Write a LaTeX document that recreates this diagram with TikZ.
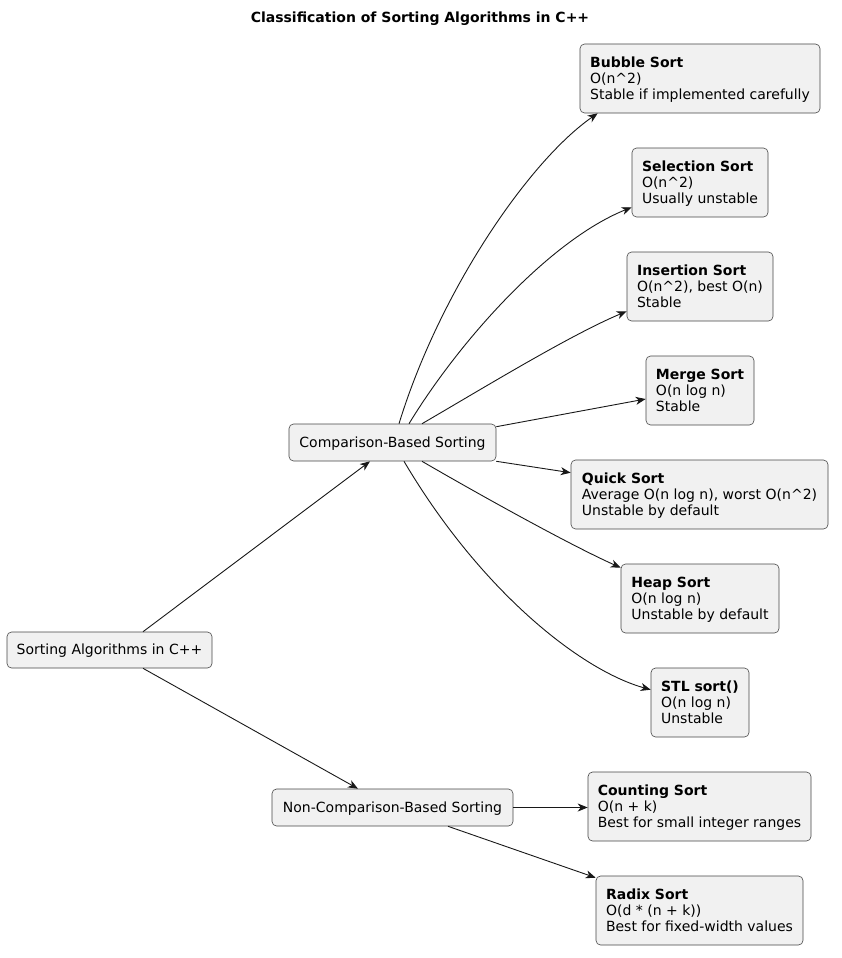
\documentclass[tikz,border=0pt]{standalone}
\usepackage{fontspec}
\setmainfont{DejaVu Sans}
\usetikzlibrary{arrows.meta,calc}
\definecolor{boxfill}{HTML}{F1F1F1}
\definecolor{ink}{HTML}{181818}
\newcommand{\sst}{\rule[-3.2pt]{0pt}{16pt}}
\tikzset{
  box/.style={draw=ink!80, line width=0.6pt, fill=boxfill, rounded corners=4.5pt,
    align=left, inner sep=0pt, font=\fontsize{14}{16}\selectfont, text=black},
  conn/.style={draw=ink, line width=0.9pt, -{Stealth[length=10pt,width=8pt,inset=3pt]}}
}
\begin{document}
\begin{tikzpicture}[x=1pt,y=-1pt]
\useasboundingbox (0,0) rectangle (841,958);
\node[font=\fontsize{14}{16}\selectfont\bfseries] (title) at (420,19) {Classification of Sorting Algorithms in C++};

\node[box, minimum width=205pt, minimum height=36pt] (root) at (109.5,650) {\sst Sorting Algorithms in C++};
\node[box, minimum width=207pt, minimum height=37pt] (cmp) at (392.5,442.5) {\sst Comparison-Based Sorting};
\node[box, minimum width=241pt, minimum height=37pt] (ncmp) at (392.5,807.5) {\sst Non-Comparison-Based Sorting};

\node[box, minimum width=240pt, minimum height=69pt] (bubble) at (700,78.5) {\sst\textbf{Bubble Sort}\\\sst O(n\^{}2)\\\sst Stable if implemented carefully};
\node[box, minimum width=136pt, minimum height=69pt] (selection) at (700,182.5) {\sst\textbf{Selection Sort}\\\sst O(n\^{}2)\\\sst Usually unstable};
\node[box, minimum width=146pt, minimum height=69pt] (insertion) at (700,286.5) {\sst\textbf{Insertion Sort}\\\sst O(n\^{}2), best O(n)\\\sst Stable};
\node[box, minimum width=108pt, minimum height=69pt] (merge) at (700,390.5) {\sst\textbf{Merge Sort}\\\sst O(n log n)\\\sst Stable};
\node[box, minimum width=257pt, minimum height=69pt] (quick) at (699.5,494.5) {\sst\textbf{Quick Sort}\\\sst Average O(n log n), worst O(n\^{}2)\\\sst Unstable by default};
\node[box, minimum width=158pt, minimum height=69pt] (heap) at (700,598.5) {\sst\textbf{Heap Sort}\\\sst O(n log n)\\\sst Unstable by default};
\node[box, minimum width=98pt, minimum height=69pt] (stl) at (700,702.5) {\sst\textbf{STL sort()}\\\sst O(n log n)\\\sst Unstable};
\node[box, minimum width=223pt, minimum height=69pt] (counting) at (699.5,806.5) {\sst\textbf{Counting Sort}\\\sst O(n + k)\\\sst Best for small integer ranges};
\node[box, minimum width=207pt, minimum height=69pt] (radix) at (699.5,910.5) {\sst\textbf{Radix Sort}\\\sst O(d * (n + k))\\\sst Best for fixed-width values};

\draw[conn] ([xshift=33.5pt]root.north) -- ([xshift=-22.5pt]cmp.south);
\draw[conn] ([xshift=33.5pt]root.south) -- ([xshift=-34.5pt]ncmp.north);
\draw[conn] (ncmp.east) -- (counting.west |- ncmp.east);
\draw[conn] ([xshift=55.5pt]ncmp.south) -- ([yshift=-2pt]radix.north west);

\draw[conn] ([xshift=6.5pt]cmp.north) .. controls (440,290) and (530,160) .. ([xshift=18pt]bubble.south west);
\draw[conn] ([xshift=16.5pt]cmp.north) .. controls (460,340) and (550,240) .. ([yshift=10pt]selection.south west);
\draw[conn] ([xshift=29.5pt]cmp.north) .. controls (480,390) and (570,335) .. ([yshift=10pt]insertion.south west);
\draw[conn] ([yshift=-3pt]cmp.north east) -- ([yshift=-8.5pt]merge.west);
\draw[conn] (cmp.south east) -- ([yshift=-13pt]quick.north west);
\draw[conn] ([xshift=29.5pt]cmp.south) .. controls (480,495) and (570,545) .. ([yshift=-4pt]heap.north west);
\draw[conn] ([xshift=11.5pt]cmp.south) .. controls (480,590) and (580,670) .. ([yshift=-22pt]stl.north west);
\end{tikzpicture}
\end{document}
